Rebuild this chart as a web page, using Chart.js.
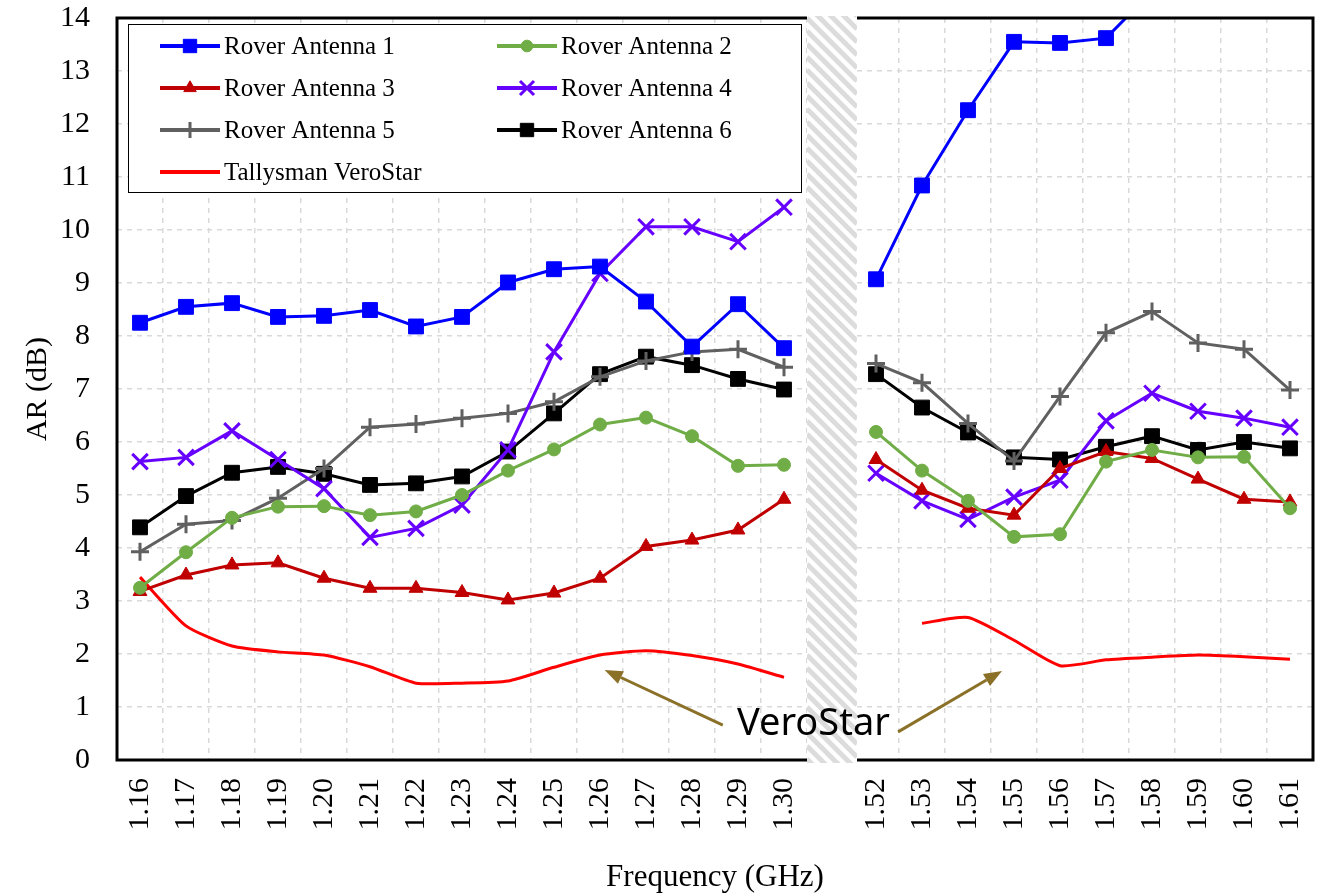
<!DOCTYPE html>
<html>
<head>
<meta charset="utf-8">
<title>AR vs Frequency</title>
<script src="https://cdn.jsdelivr.net/npm/chart.js@4.4.1/dist/chart.umd.min.js"></script>
<style>
  html, body { margin: 0; padding: 0; background: #fff; }
  #wrap { width: 1327px; height: 896px; }
</style>
</head>
<body>
<div id="wrap"><canvas id="chart" width="1327" height="896"></canvas></div>
<script>
// 周波数ラベル(空欄はバンド間の区切り)
const frequencies = [
  "1.16", "1.17", "1.18", "1.19", "1.20", "1.21", "1.22", "1.23", "1.24", "1.25",
  "1.26", "1.27", "1.28", "1.29", "1.30", "",
  "1.52", "1.53", "1.54", "1.55", "1.56", "1.57", "1.58", "1.59", "1.60", "1.61",
];
const gapIndex = 15;

// 各アンテナのAR (dB)
const rover1 = [8.25, 8.55, 8.62, 8.36, 8.38, 8.49, 8.18, 8.36, 9.01, 9.26, 9.31, 8.65, 7.80, 8.60, 7.77, null,
  9.07, 10.84, 12.26, 13.55, 13.53, 13.62, 14.5, 15.2, 15.6, 16.0];
const rover2 = [3.25, 3.92, 4.57, 4.78, 4.79, 4.62, 4.69, 5.00, 5.46, 5.86, 6.33, 6.46, 6.11, 5.55, 5.57, null,
  6.19, 5.46, 4.89, 4.21, 4.26, 5.63, 5.85, 5.71, 5.72, 4.75];
const rover3 = [3.18, 3.49, 3.68, 3.72, 3.43, 3.24, 3.24, 3.16, 3.02, 3.15, 3.43, 4.03, 4.15, 4.34, 4.92, null,
  5.67, 5.09, 4.75, 4.62, 5.50, 5.82, 5.69, 5.30, 4.92, 4.87];
const rover4 = [5.63, 5.71, 6.21, 5.67, 5.12, 4.20, 4.37, 4.81, 5.85, 7.70, 9.18, 10.06, 10.06, 9.78, 10.43, null,
  5.41, 4.89, 4.54, 4.96, 5.28, 6.40, 6.92, 6.58, 6.45, 6.28];
const rover5 = [3.93, 4.45, 4.52, 4.94, 5.50, 6.28, 6.34, 6.45, 6.54, 6.76, 7.23, 7.53, 7.70, 7.75, 7.41, null,
  7.48, 7.12, 6.35, 5.64, 6.86, 8.06, 8.46, 7.87, 7.75, 6.98];
const rover6 = [4.39, 4.98, 5.42, 5.53, 5.40, 5.19, 5.22, 5.35, 5.82, 6.54, 7.28, 7.61, 7.45, 7.19, 6.99, null,
  7.28, 6.65, 6.18, 5.71, 5.67, 5.91, 6.11, 5.85, 6.00, 5.88];
const veroStar = [3.45, 2.53, 2.15, 2.04, 1.98, 1.76, 1.45, 1.45, 1.49, 1.75, 1.98, 2.06, 1.97, 1.81, 1.56, null,
  null, 2.58, 2.69, 2.26, 1.78, 1.89, 1.94, 1.98, 1.95, 1.90];

// 軸の範囲
const arMin = 0;
const arMax = 14;
const arStep = 1;

// 注記 (カテゴリ位置, AR値)
const calloutText = "VeroStar";
const calloutAt = [14.64, 0.68];
const calloutArrows = [
  { from: [12.67, 0.66], to: [10.1, 1.70] },
  { from: [16.48, 0.53], to: [18.74, 1.68] },
];

const serif = "'Liberation Serif', 'Times New Roman', serif";

document.addEventListener("DOMContentLoaded", function () {
  const series = [
    { label: "Rover Antenna 1", data: rover1, color: "#0000FF", style: "rect", r: 10.5, bw: 1 },
    { label: "Rover Antenna 2", data: rover2, color: "#70AD47", style: "circle", r: 6.5, bw: 1 },
    { label: "Rover Antenna 3", data: rover3, color: "#C00000", style: "triangle", r: 8, bw: 1 },
    { label: "Rover Antenna 4", data: rover4, color: "#6600FF", style: "crossRot", r: 11, bw: 3 },
    { label: "Rover Antenna 5", data: rover5, color: "#606060", style: "cross", r: 9, bw: 3 },
    { label: "Rover Antenna 6", data: rover6, color: "#000000", style: "rect", r: 10.5, bw: 1 },
  ];

  const datasets = series.map((s) => ({
    label: s.label,
    data: s.data,
    borderColor: s.color,
    backgroundColor: s.color,
    borderWidth: 3,
    pointStyle: s.style,
    pointRadius: s.r,
    pointBorderWidth: s.bw,
    pointBackgroundColor: s.color,
    pointBorderColor: s.color,
    tension: 0,
    spanGaps: false,
  }));
  datasets.push({
    label: "Tallysman VeroStar",
    data: veroStar,
    borderColor: "#FF0000",
    backgroundColor: "#FF0000",
    borderWidth: 3,
    pointRadius: 0,
    tension: 0.2,
    spanGaps: false,
  });

  // 凡例用マーカー
  function drawMarker(ctx, style, x, y, r, color, lw) {
    ctx.beginPath();
    if (style === "rect") {
      const h = r * Math.SQRT1_2;
      ctx.rect(x - h, y - h, 2 * h, 2 * h);
    } else if (style === "circle") {
      ctx.arc(x, y, r, 0, Math.PI * 2);
    } else if (style === "triangle") {
      ctx.moveTo(x, y - r);
      ctx.lineTo(x + r * 0.866, y + r / 2);
      ctx.lineTo(x - r * 0.866, y + r / 2);
      ctx.closePath();
    } else if (style === "cross") {
      ctx.moveTo(x, y - r); ctx.lineTo(x, y + r);
      ctx.moveTo(x - r, y); ctx.lineTo(x + r, y);
    } else if (style === "crossRot") {
      const d = r * Math.SQRT1_2;
      ctx.moveTo(x - d, y - d); ctx.lineTo(x + d, y + d);
      ctx.moveTo(x + d, y - d); ctx.lineTo(x - d, y + d);
    }
    ctx.fillStyle = color;
    ctx.strokeStyle = color;
    ctx.lineWidth = lw;
    if (style !== "cross" && style !== "crossRot") ctx.fill();
    ctx.stroke();
  }

  // 枠・斜線・凡例・注記
  const decorPlugin = {
    id: "decor",
    afterDatasetsDraw(chart) {
      const { ctx, chartArea: a, scales: { x, y } } = chart;
      ctx.save();

      // 外枠
      ctx.strokeStyle = "#000";
      ctx.lineWidth = 3;
      ctx.strokeRect(a.left, a.top, a.right - a.left, a.bottom - a.top);

      // バンド間の斜線
      const half = (x.getPixelForValue(1) - x.getPixelForValue(0)) / 2;
      const hx = x.getPixelForValue(gapIndex) - half;
      const hw = 2 * half + 4;
      const ht = a.top - 2;
      const hb = a.bottom + 3;
      ctx.save();
      ctx.beginPath();
      ctx.rect(hx, ht, hw, hb - ht);
      ctx.clip();
      ctx.fillStyle = "#fff";
      ctx.fillRect(hx, ht, hw, hb - ht);
      ctx.strokeStyle = "#dcdcdc";
      ctx.lineWidth = 5;
      for (let yy = ht - hw; yy < hb; yy += 13) {
        ctx.beginPath();
        ctx.moveTo(hx, yy);
        ctx.lineTo(hx + hw, yy + hw);
        ctx.stroke();
      }
      ctx.restore();

      // 凡例
      const box = { left: a.left + 11, top: a.top + 6, width: 673, height: 168 };
      ctx.fillStyle = "#fff";
      ctx.fillRect(box.left, box.top, box.width, box.height);
      ctx.strokeStyle = "#000";
      ctx.lineWidth = 1;
      ctx.strokeRect(box.left + 0.5, box.top + 0.5, box.width, box.height);
      ctx.font = "25px " + serif;
      ctx.textBaseline = "middle";
      ctx.textAlign = "left";
      chart.data.datasets.forEach((ds, i) => {
        const col = i % 2;
        const row = Math.floor(i / 2);
        const x0 = box.left + (col ? 369 : 32);
        const yc = box.top + 22 + row * 42;
        ctx.beginPath();
        ctx.moveTo(x0, yc);
        ctx.lineTo(x0 + 60, yc);
        ctx.strokeStyle = ds.borderColor;
        ctx.lineWidth = 4;
        ctx.stroke();
        if (ds.pointRadius > 0) {
          drawMarker(ctx, ds.pointStyle, x0 + 30, yc, ds.pointRadius * 0.9, ds.borderColor, ds.pointBorderWidth);
        }
        ctx.fillStyle = "#000";
        ctx.fillText(ds.label, x0 + 64, yc + 1);
      });

      // 注記の矢印
      ctx.strokeStyle = "#8B7128";
      ctx.fillStyle = "#8B7128";
      ctx.lineWidth = 3;
      calloutArrows.forEach((ar) => {
        const fx = x.getPixelForValue(ar.from[0]);
        const fy = y.getPixelForValue(ar.from[1]);
        const tx = x.getPixelForValue(ar.to[0]);
        const ty = y.getPixelForValue(ar.to[1]);
        const ang = Math.atan2(ty - fy, tx - fx);
        const len = 18;
        const bx = tx - Math.cos(ang) * len;
        const by = ty - Math.sin(ang) * len;
        ctx.beginPath();
        ctx.moveTo(fx, fy);
        ctx.lineTo(bx, by);
        ctx.stroke();
        ctx.beginPath();
        ctx.moveTo(tx, ty);
        ctx.lineTo(bx + Math.sin(ang) * 7, by - Math.cos(ang) * 7);
        ctx.lineTo(bx - Math.sin(ang) * 7, by + Math.cos(ang) * 7);
        ctx.closePath();
        ctx.fill();
      });

      // 注記テキスト
      ctx.font = "38px 'Noto Sans', 'Open Sans', sans-serif";
      ctx.fillStyle = "#000";
      ctx.textAlign = "center";
      ctx.textBaseline = "middle";
      ctx.fillText(calloutText, x.getPixelForValue(calloutAt[0]), y.getPixelForValue(calloutAt[1]));

      ctx.restore();
    },
  };

  const ctx = document.getElementById("chart").getContext("2d");
  new Chart(ctx, {
    type: "line",
    data: { labels: frequencies, datasets: datasets },
    plugins: [decorPlugin],
    options: {
      responsive: false,
      animation: false,
      layout: { padding: { top: 18, right: 14, left: 0, bottom: 0 } },
      plugins: {
        legend: { display: false },
        tooltip: { enabled: false },
      },
      scales: {
        x: {
          type: "category",
          offset: true,
          // 目盛線は透明にしてラベル位置の調整だけに使う
          grid: { color: "#d9d9d9", lineWidth: 1.5, drawTicks: true, tickLength: 18, tickColor: "rgba(0,0,0,0)", offset: true },
          border: { display: false, dash: [5, 5] },
          ticks: {
            autoSkip: false,
            maxRotation: 90,
            minRotation: 90,
            padding: 0,
            color: "#000",
            font: { family: serif, size: 30 },
          },
          title: {
            display: true,
            text: "Frequency (GHz)",
            color: "#000",
            font: { family: serif, size: 31 },
            padding: { top: 0, bottom: 0 },
          },
          afterFit(scale) {
            scale.height = 136;
          },
        },
        y: {
          min: arMin,
          max: arMax,
          grid: { color: "#d9d9d9", lineWidth: 1.5, drawTicks: true, tickLength: 27, tickColor: "rgba(0,0,0,0)" },
          border: { display: false, dash: [5, 5] },
          ticks: {
            stepSize: arStep,
            padding: 0,
            color: "#000",
            font: { family: serif, size: 30 },
          },
          title: {
            display: true,
            text: "AR (dB)",
            color: "#000",
            font: { family: serif, size: 30 },
            padding: { top: 20, bottom: 0 },
          },
          afterFit(scale) {
            scale.width = 117;
          },
        },
      },
    },
  });
});
</script>
</body>
</html>
